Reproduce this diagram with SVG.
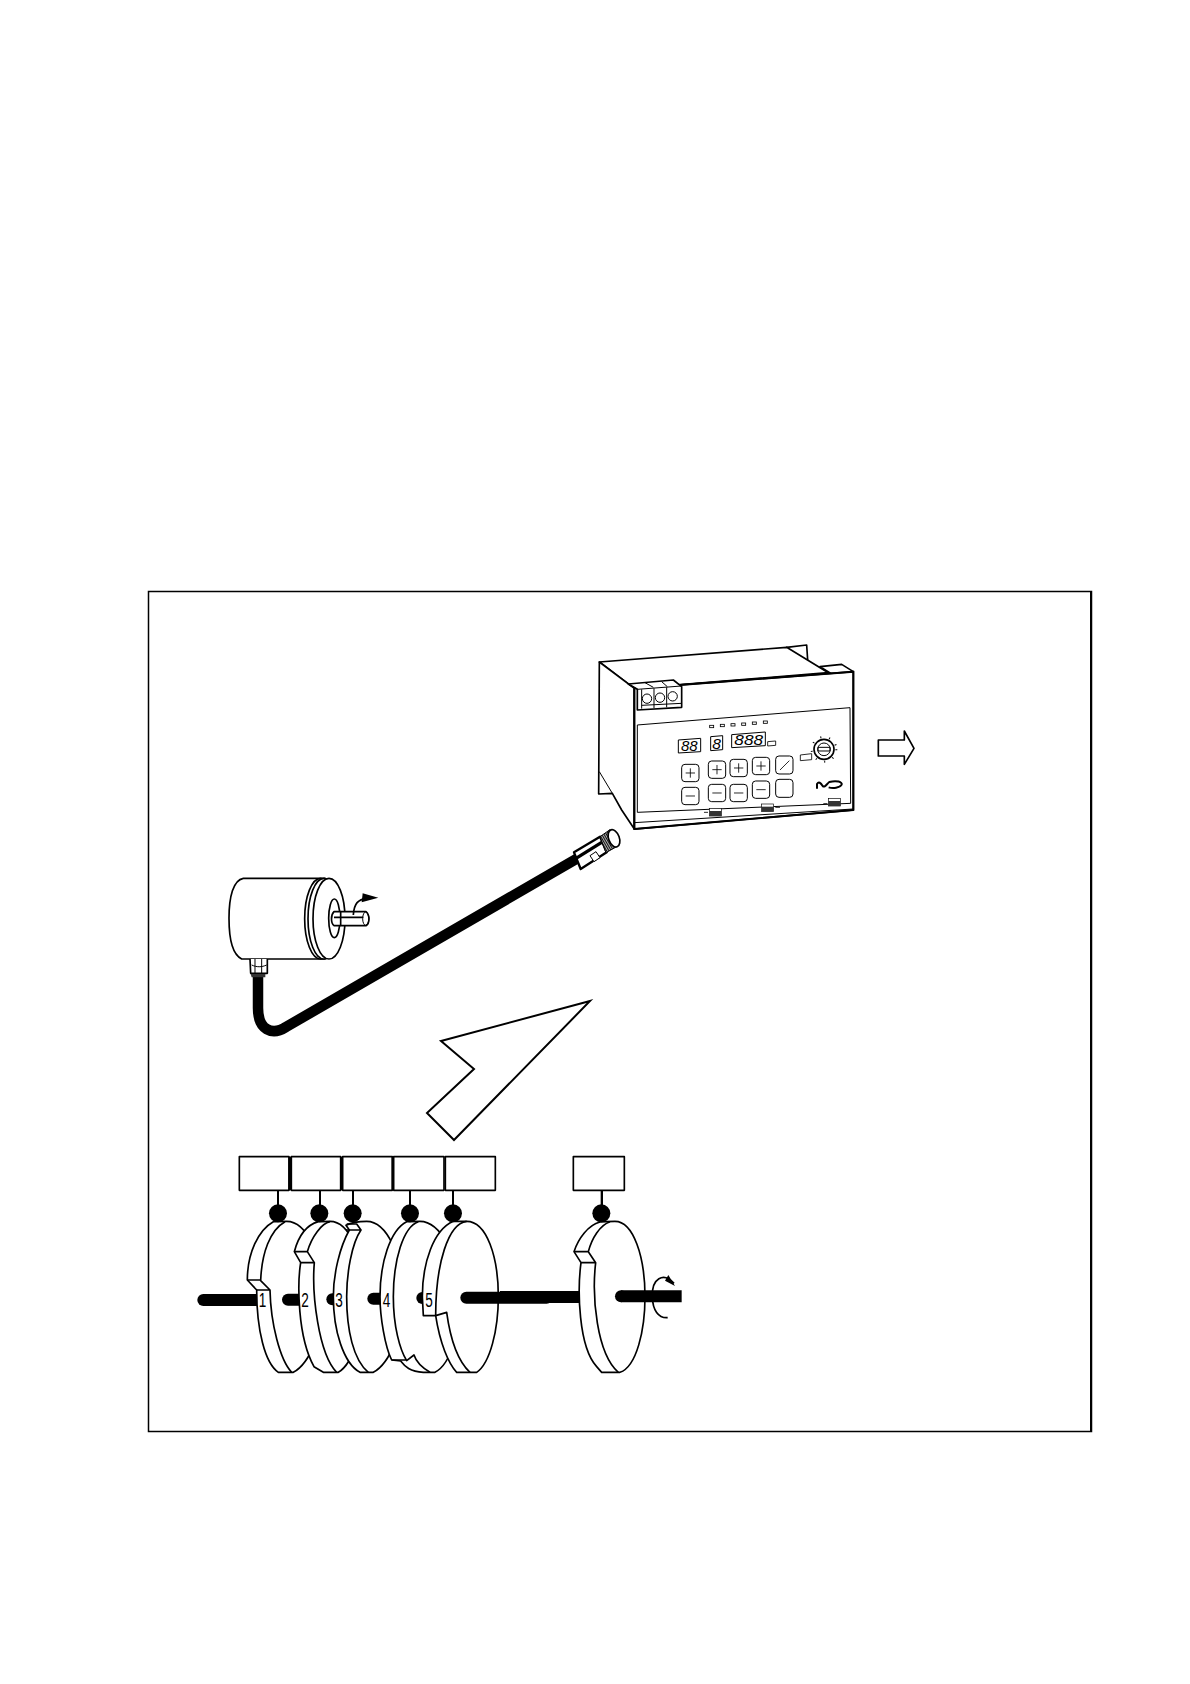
<svg xmlns="http://www.w3.org/2000/svg" width="1190" height="1684" viewBox="0 0 1190 1684">
<style>
.l{fill:none;stroke:#000;stroke-width:5;stroke-linejoin:round}
.p{fill:none;stroke:#000;stroke-width:3;stroke-linejoin:round}
.w{fill:#fff;stroke:#000;stroke-width:5;stroke-linejoin:round}
.t{fill:none;stroke:#000;stroke-width:6;stroke-linejoin:round}
.k{fill:#000}
.s{fill:none;stroke:#000;stroke-width:36;stroke-linecap:round}
.b{fill:#fff;stroke:#000;stroke-width:3;rx:10px}
.g{fill:none;stroke:#000;stroke-width:2.500}
.d{font-family:"Liberation Sans",sans-serif;font-style:italic;font-size:42px;fill:#000}
.n{font-family:"Liberation Sans",sans-serif;font-size:60px;fill:#000}
</style>
<defs>
<g id="plus"><rect class="b" x="0" y="0" width="52" height="52"/><path class="g" d="M12,26H40M26,12V40"/></g>
<g id="minus"><rect class="b" x="0" y="0" width="52" height="52"/><path class="g" d="M12,26H40"/></g>
<g id="port"><rect width="36" height="23" fill="#fff" stroke="#000" stroke-width="2"/><rect y="8" width="36" height="15" fill="#333"/></g>
<pattern id="knurl" width="6" height="6" patternUnits="userSpaceOnUse" patternTransform="rotate(-30)"><rect width="6" height="6" fill="#fff"/><rect width="4" height="6" fill="#111"/></pattern>
</defs>
<rect id="frame" x="148.500" y="591.500" width="943" height="840" fill="#fff" stroke="#000" stroke-width="1.500"/>
<path d="M1091,592V1431" stroke="#000" stroke-width="2"/>

<g id="device" transform="translate(580 630) scale(.33333)">
<path class="w" d="M620,52 L680,45 L683,90 L640,92Z"/>
<path class="w" d="M720,110 L785,103 L820,125 L760,135Z"/>
<path class="w" d="M58,96 L620,52 L745,128 L163,175Z"/>
<path class="w" d="M58,96 L163,175 L163,597 L125,540 L97,490 L56,492Z"/>
<path class="p" d="M58,425 L97,490"/>
<path d="M163,175 L820,125 L820,540 L163,597Z" fill="#fff" stroke="#000" stroke-width="5"/>
<path class="t" d="M300,165 L820,125 L820,540 L163,597 L163,175"/>
<path class="p" d="M163,578 L820,537"/>
<path class="p" d="M172,285 L810,233 L812,520 L172,547Z"/>
<g id="terminals">
<path class="w" d="M145,162 L280,150 L305,170 L305,232 L172,240 L172,178Z"/>
<path class="p" d="M145,162 L172,178 L305,168M195,158 L220,172M245,155 L262,170M185,178V236M222,175V234M260,172V232M185,226L305,220"/>
<circle class="p" cx="201" cy="206" r="14"/><circle class="p" cx="240" cy="203" r="14"/><circle class="p" cx="278" cy="199" r="14"/>
</g>
<g id="leds" class="g">
<rect x="389" y="286" width="12" height="7"/><rect x="421" y="283" width="12" height="7"/><rect x="453" y="281" width="12" height="7"/><rect x="485" y="279" width="12" height="7"/><rect x="517" y="276" width="12" height="7"/><rect x="550" y="273" width="12" height="7"/>
</g>
<g id="displays">
<path class="p" d="M295,330 L362,325 L362,365 L295,369Z"/>
<path class="p" d="M392,320 L428,317 L428,359 L392,362Z"/>
<path class="p" d="M455,314 L556,306 L556,347 L455,353Z"/>
<path class="g" d="M563,335 L587,333 L587,346 L563,348Z"/>
<text class="d" x="303" y="362" textLength="50" lengthAdjust="spacingAndGlyphs">88</text><text class="d" x="397" y="356" textLength="26" lengthAdjust="spacingAndGlyphs">8</text><text class="d" x="463" y="346" textLength="86" lengthAdjust="spacingAndGlyphs">888</text>
</g>
<path class="g" d="M661,375 L695,371 L695,389 L661,392Z"/>
<g id="knob">
<circle cx="732" cy="358" r="37" fill="none" stroke="#000" stroke-width="6" stroke-dasharray="3 24"/>
<circle cx="732" cy="358" r="30" fill="#fff" stroke="#000" stroke-width="5"/>
<circle cx="732" cy="358" r="19" class="p"/>
<rect x="714" y="352" width="36" height="11" class="p"/>
</g>
<g id="buttons">
<use href="#plus" x="305" y="403"/><use href="#plus" x="385" y="393"/><use href="#plus" x="450" y="388"/><use href="#plus" x="517" y="382"/>
<rect class="b" x="587" y="378" width="52" height="54"/><path class="g" d="M600,420 L628,392"/>
<use href="#minus" x="305" y="472"/><use href="#minus" x="385" y="463"/><use href="#minus" x="450" y="463"/><use href="#minus" x="517" y="453"/>
<rect class="b" x="587" y="448" width="52" height="54"/>
</g>
<path id="logo" d="M711,476 L711,462 C716,454 722,458 728,468 C734,474 740,462 748,456 C770,450 788,456 785,464 C780,474 758,476 746,472" fill="none" stroke="#000" stroke-width="6"/>
<use href="#port" x="388" y="535"/><use href="#port" x="545" y="522"/><use href="#port" x="745" y="505"/>
<path class="g" d="M372,547H384M586,532H600M730,521H742"/>
</g>

<path id="output-arrow" transform="translate(580 630) scale(.33333)" class="w" d="M895,330 H973 V303 L1002,355 L973,403 V378 H895Z"/>

<g id="connectors">
<path id="cable" d="M258,975 V1008 C258,1030 272,1036 286,1027 L578,858" fill="none" stroke="#000" stroke-width="10.500"/>
<path id="big-arrow" d="M590,1001 L441,1041 L474,1069 L427,1113 L454,1140Z" fill="#fff" stroke="#000" stroke-width="2"/>
<g id="stems" stroke="#000" stroke-width="2">
<path d="M278,1190V1213M320,1190V1213M353,1190V1213M410,1190V1213M453,1190V1213M602,1190V1213"/>
</g>
</g>

<g id="encoder" transform="translate(210 860) scale(.33333)">
<path class="w" d="M100,55 H345 V297 H95 C70,285 57,240 57,175 C57,110 70,60 100,55Z"/>
<path class="w" d="M172,297 L172,340 L122,340 L120,297"/>
<path class="p" d="M125,315 C140,322 155,322 170,315M135,297 V340M155,297 V340"/>
<path d="M122,342 L166,342 L166,352 L125,352Z" fill="#333"/>
<ellipse class="w" cx="332" cy="176" rx="48" ry="121"/>
<ellipse class="w" cx="342" cy="176" rx="48" ry="121"/>
<ellipse class="w" cx="357" cy="176" rx="48" ry="121"/>
<ellipse class="l" cx="373" cy="175" rx="17" ry="58"/>
<path class="w" d="M372,155 H468 C480,165 480,190 468,197 H372 C362,190 362,165 372,155Z"/>
<ellipse class="p" cx="467" cy="176" rx="9" ry="20"/>
<path class="l" d="M392,155 V197 M372,172 H460"/>
<path class="l" d="M430,165 C432,130 445,118 470,115"/>
<path class="k" d="M458,100 L505,113 L455,127Z"/>
</g>

<g id="plug" transform="translate(560 815) scale(.33333)">
<path d="M42,112 L120,65 L140,112 L62,162 Z" fill="#fff" stroke="#000" stroke-width="7" stroke-linejoin="round"/>
<path d="M48,130 L125,82" stroke="#000" stroke-width="10"/>
<path d="M90,122 L108,110 L120,128 L102,140Z" fill="#fff" stroke="#000" stroke-width="3"/>
<path d="M120,65 L150,44 L170,95 L138,113Z" fill="url(#knurl)" stroke="#000" stroke-width="3"/>
<ellipse cx="162" cy="70" rx="16" ry="27" transform="rotate(-20 162 70)" fill="#fff" stroke="#000" stroke-width="5"/>
</g>

<g id="cams" transform="translate(190 1150) scale(.33333)">
<g id="labels">
<rect class="w" x="148" y="20" width="149" height="101"/>
<rect class="w" x="304" y="20" width="148" height="101"/>
<rect class="w" x="458" y="20" width="149" height="101"/>
<rect class="w" x="611" y="20" width="151" height="101"/>
<rect class="w" x="766" y="20" width="150" height="101"/>
<path class="k" d="M295,20h9v101h-9zM450,20h8v101h-8zM605,20h6v101h-6z"/>
</g>
<path class="s" d="M40,450 H210"/>
<g id="disc1">
<path class="w" d="M250,215 C205,240 172,310 172,390 L200,420 C200,540 225,640 265,667 H310 C360,640 400,540 400,440 C400,320 350,214 290,214 C275,214 262,214 250,215Z"/>
<path class="l" d="M285,215 C240,240 215,310 212,392 L240,420 C242,520 270,630 305,667M172,390 H212M200,420 H240"/>
<text class="n" transform="translate(206 472) scale(.68 1)">1</text>
</g>
<path class="s" d="M294,449 H340"/>
<g id="disc2">
<path class="w" d="M385,215 C350,225 325,260 313,305 L332,338 C322,400 322,560 372,650 L400,667 H445 C490,640 520,540 520,440 C520,320 480,214 420,214 C408,214 395,214 385,215Z"/>
<path class="l" d="M420,215 C395,220 365,260 352,305 L373,338 C365,430 385,610 440,667M313,305 H352M332,338 H373"/>
<text class="n" transform="translate(334 472) scale(.68 1)">2</text>
</g>
<path class="s" d="M427,448 H450"/>
<g id="disc3">
<path class="w" d="M468,226 L478,240 C450,290 430,370 430,440 C430,540 460,640 510,667 H550 C600,640 640,540 640,440 C640,320 590,214 530,214 C515,214 490,214 468,226Z"/>
<path class="l" d="M470,222 H500 L513,240 C485,280 470,370 470,440 C470,540 490,630 535,667M468,240 H513"/>
<text class="n" transform="translate(436 472) scale(.68 1)">3</text>
</g>
<path class="s" d="M550,446 H590"/>
<g id="disc4">
<path class="w" d="M650,215 C600,240 570,340 570,440 C570,500 585,590 605,630 L632,633 C645,650 660,665 700,667 H735 C785,640 810,540 810,440 C810,320 750,214 690,214 C675,214 660,214 650,215Z"/>
<path class="l" d="M685,215 C640,230 610,330 610,440 C610,530 630,600 650,632 L672,615 C680,640 700,655 720,667M605,630 H650"/>
<text class="n" transform="translate(578 472) scale(.68 1)">4</text>
</g>
<path class="s" d="M697,444 H720"/>
<g id="disc5">
<path class="w" d="M790,214 C730,240 697,340 697,440 L700,497 L737,497 C750,580 775,640 800,667 H860 C900,640 925,540 925,440 C925,320 890,214 830,214 Z"/>
<path class="l" d="M830,214 C775,220 737,340 737,497 L770,487 C780,560 800,630 840,667"/>
<text class="n" transform="translate(706 472) scale(.68 1)">5</text>
</g>
<path class="s" d="M829,443 H1070"/>
<circle class="k" cx="264" cy="190" r="27"/><circle class="k" cx="388" cy="190" r="27"/><circle class="k" cx="488" cy="190" r="27"/><circle class="k" cx="660" cy="190" r="27"/><circle class="k" cx="789" cy="190" r="27"/>
</g>

<g id="cam6" transform="translate(500 1150) scale(.33333)">
<rect class="w" x="220" y="20" width="153" height="101"/>
<path d="M305,121V170" stroke="#000" stroke-width="6"/>
<path d="M0,441 H240" stroke="#000" stroke-width="36"/>
<path class="w" d="M300,216 C265,225 235,265 222,305 L243,338 C232,420 235,590 290,650 L305,667 H360 C410,650 435,540 435,440 C435,320 400,214 345,214 C330,214 315,214 300,216Z"/>
<path class="l" d="M330,215 C300,225 275,265 265,305 L287,338 C275,440 290,610 355,667M222,305 H265M243,338 H287"/>
<circle class="k" cx="304" cy="190" r="27"/>
<path d="M363,439 H545" stroke="#000" stroke-width="36"/><circle class="k" cx="363" cy="439" r="18"/>
<path class="l" d="M522,400 C490,365 455,385 457,440 C458,480 475,505 503,503"/>
<path class="k" d="M505,375 L525,408 L495,392Z"/>
</g>
</svg>
